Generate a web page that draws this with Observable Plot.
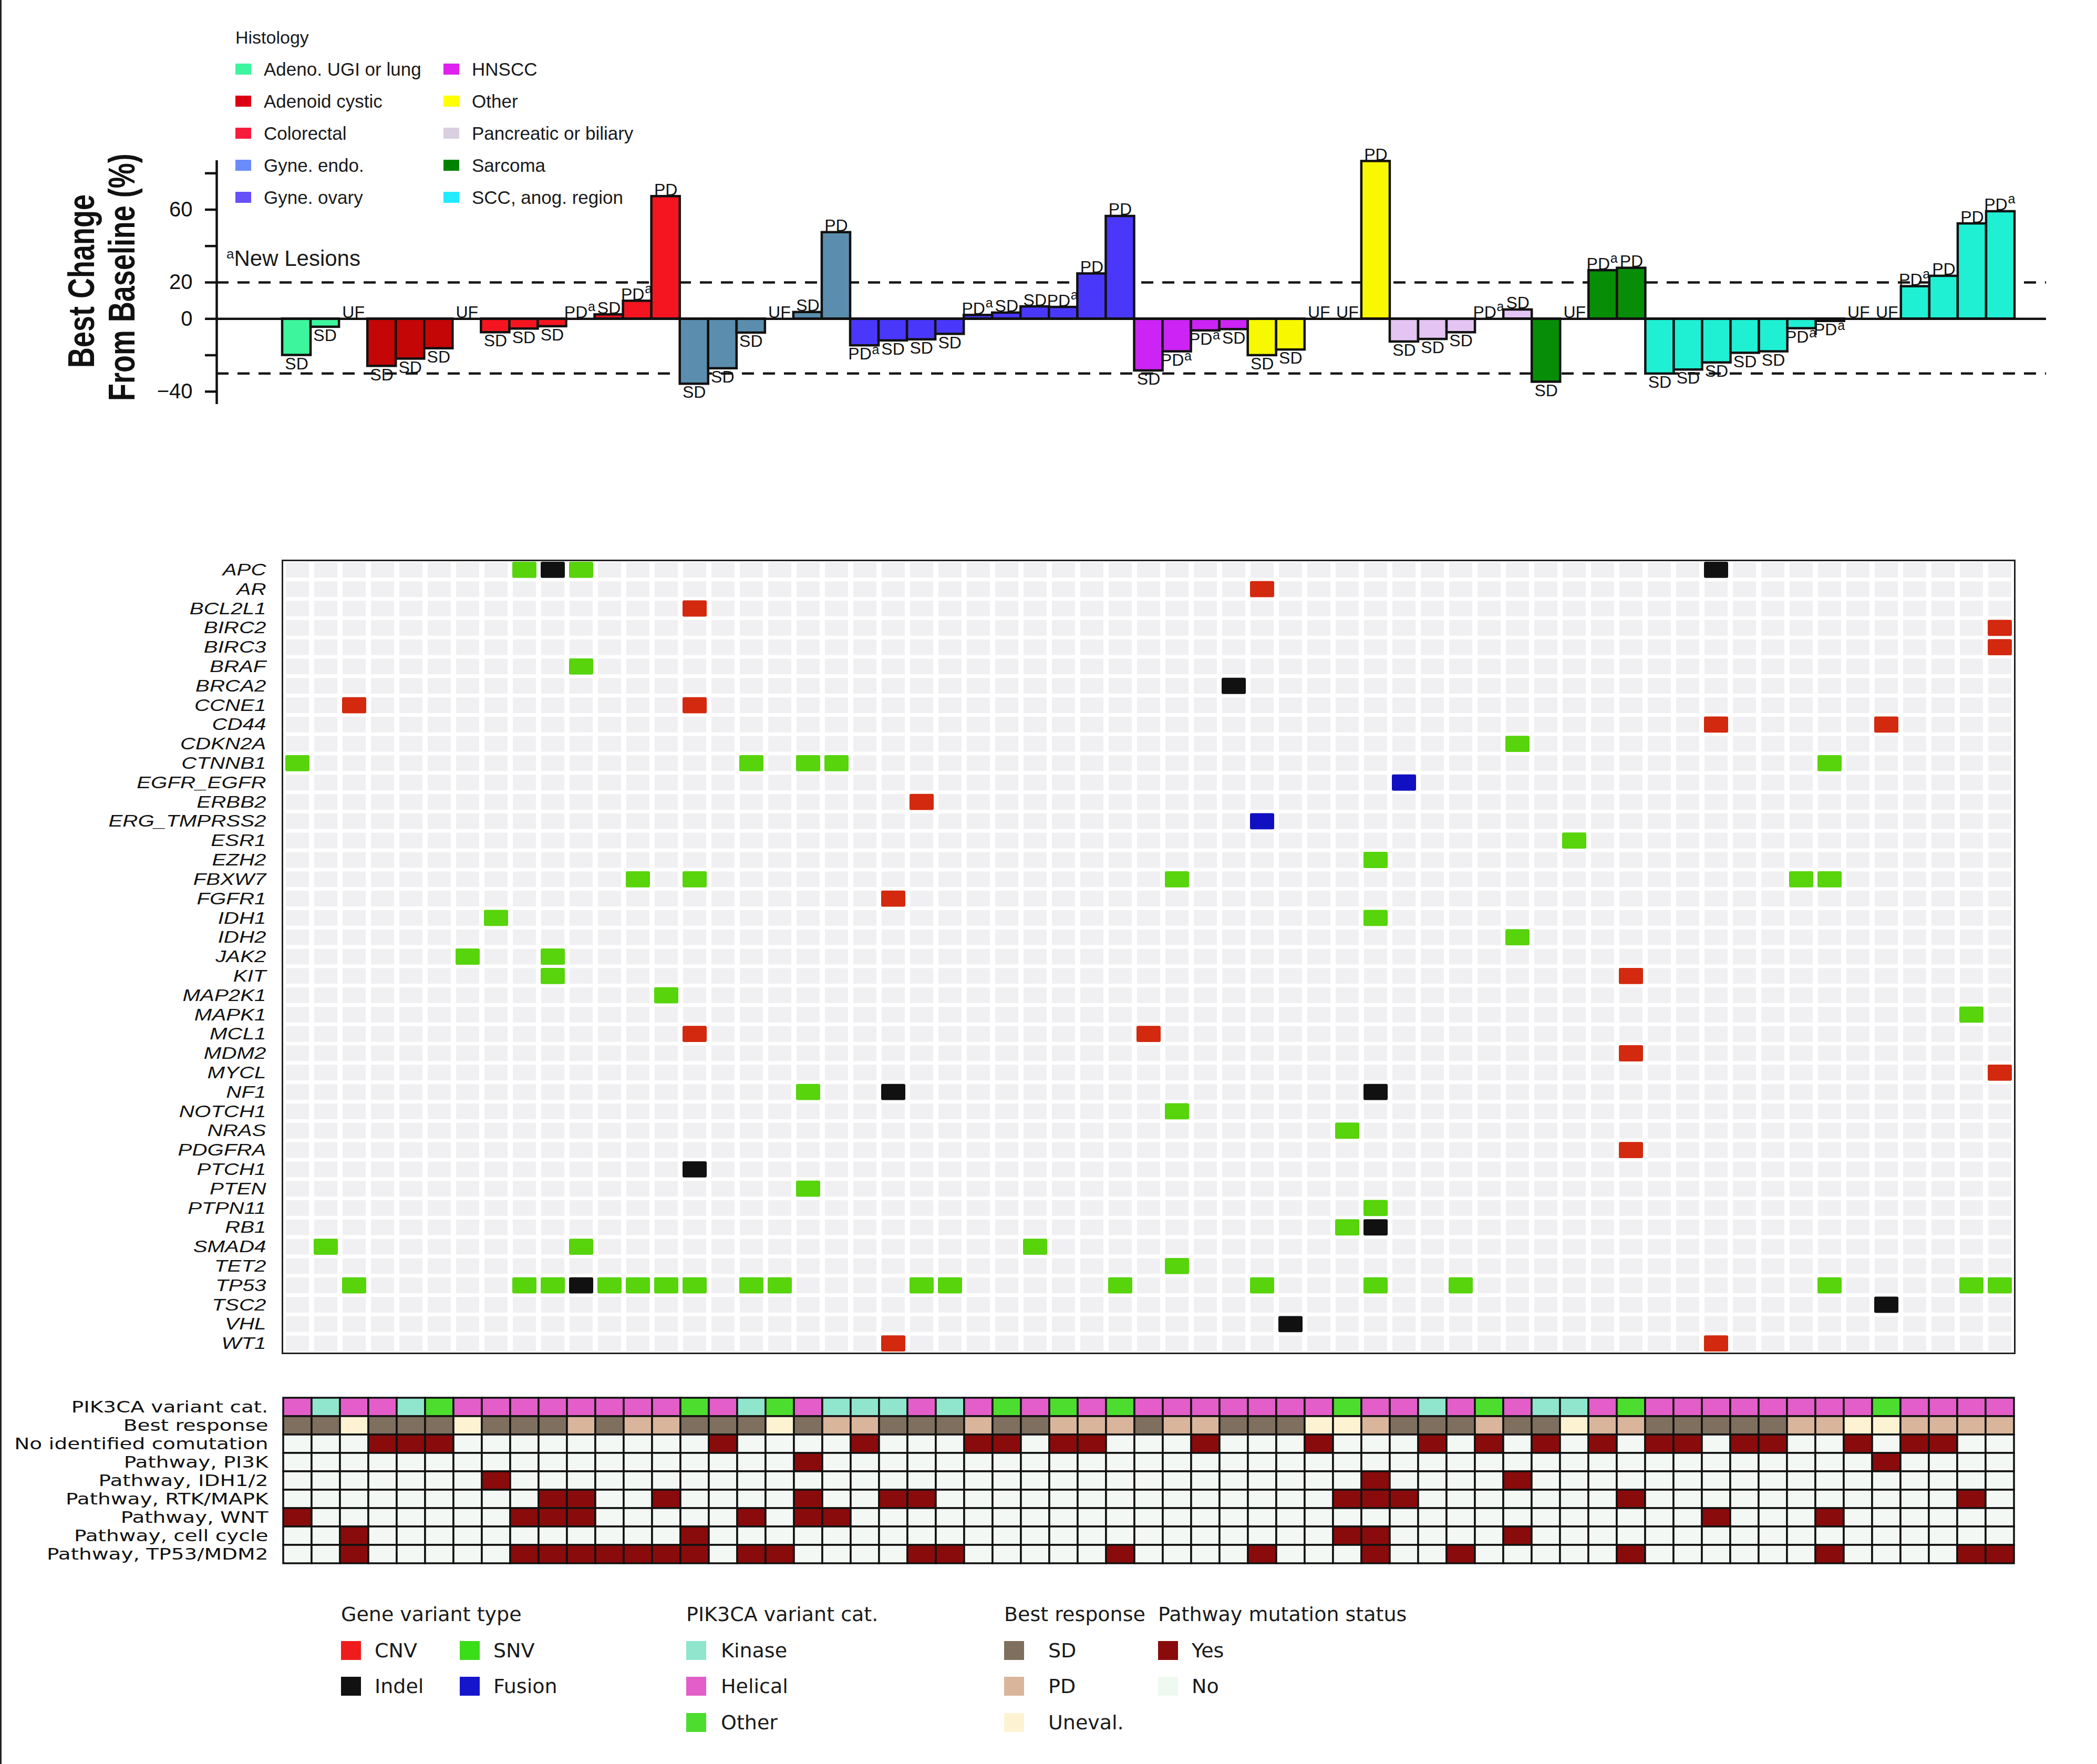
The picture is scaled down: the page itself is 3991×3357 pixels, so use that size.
<!DOCTYPE html>
<html>
<head>
<meta charset="utf-8">
<script src="https://cdn.jsdelivr.net/npm/d3@7"></script>
<script src="https://cdn.jsdelivr.net/npm/@observablehq/plot@0.6"></script>
<style>
  html, body { margin: 0; padding: 0; background: #fff; }
  #root { position: relative; width: 3991px; height: 3357px; overflow: hidden; background: #fff;
          font-family: "Liberation Sans", Arial, Helvetica, sans-serif; color: #1a1a1a; }
  #root > * { position: absolute; }
</style>
</head>
<body>
<div id="root"></div>
<script>
// ---------------- DATA ----------------
const patients = d3.range(1, 62);

const histTypes = ["Adeno. UGI or lung","Adenoid cystic","Colorectal","Gyne. endo.","Gyne. ovary",
                   "HNSCC","Other","Pancreatic or biliary","Sarcoma","SCC, anog. region"];
const histLegendColors = ["#3cf59e","#db0012","#f81c3c","#6b8bfa","#6650f8","#df20ef","#ffff00","#d8d0e0","#008200","#22eaff"];
const histBarColors    = ["#3cf59c","#c40606","#f51520","#5b8eae","#4a38fa","#cb24f4","#f8f800","#e3c4f3","#078d07","#1ff0d4"];

const histology = [
  "Adeno. UGI or lung","Adeno. UGI or lung","Adeno. UGI or lung",
  "Adenoid cystic","Adenoid cystic","Adenoid cystic","Adenoid cystic",
  "Colorectal","Colorectal","Colorectal","Colorectal","Colorectal","Colorectal","Colorectal",
  "Gyne. endo.","Gyne. endo.","Gyne. endo.","Gyne. endo.","Gyne. endo.","Gyne. endo.",
  "Gyne. ovary","Gyne. ovary","Gyne. ovary","Gyne. ovary","Gyne. ovary",
  "Gyne. ovary","Gyne. ovary","Gyne. ovary","Gyne. ovary","Gyne. ovary",
  "HNSCC","HNSCC","HNSCC","HNSCC",
  "Other","Other","Other","Other","Other",
  "Pancreatic or biliary","Pancreatic or biliary","Pancreatic or biliary","Pancreatic or biliary","Pancreatic or biliary",
  "Sarcoma","Sarcoma","Sarcoma","Sarcoma",
  "SCC, anog. region","SCC, anog. region","SCC, anog. region","SCC, anog. region","SCC, anog. region",
  "SCC, anog. region","SCC, anog. region","SCC, anog. region","SCC, anog. region","SCC, anog. region",
  "SCC, anog. region","SCC, anog. region","SCC, anog. region"
];

// best change from baseline (%); null = unevaluable (UF)
const bestChange = [
  -20, -4.5, null, -26, -22, -16.3, null, -7.5, -5.5, -4.2,
  0, 2.3, 9.8, 67.3, -35.8, -27.3, -7.7, null, 3.6, 47.5,
  -14.7, -12, -11.4, -8.4, 2, 3.3, 6.7, 6.4, 24.8, 56.4,
  -28.5, -18, -6.5, -5.8, -20.1, -17, null, null, 86.6, -12.6,
  -11.2, -7.5, 0, 5, -34.7, null, 26.6, 27.9, -30.2, -28,
  -24.1, -18.8, -18, -5.3, -1.3, null, null, 17.8, 23.5, 52.3,
  59
];

// response label ("PDa" = PD with new lesions)
const responseLabel = [
  "SD","SD","UF","SD","SD","SD","UF","SD","SD","SD",
  "PDa","SD","PDa","PD","SD","SD","SD","UF","SD","PD",
  "PDa","SD","SD","SD","PDa","SD","SD","PDa","PD","PD",
  "SD","PDa","PDa","SD","SD","SD","UF","UF","PD","SD",
  "SD","SD","PDa","SD","SD","UF","PDa","PD","SD","SD",
  "SD","SD","SD","PDa","PDa","UF","UF","PDa","PD","PD",
  "PDa"
];

const yTicks = [-40, -20, 0, 20, 40, 60, 80];
const yTickLabels = [-40, 0, 20, 60];
const thresholds = [20, -30];

const genes = ["APC","AR","BCL2L1","BIRC2","BIRC3","BRAF","BRCA2","CCNE1","CD44","CDKN2A","CTNNB1",
  "EGFR_EGFR","ERBB2","ERG_TMPRSS2","ESR1","EZH2","FBXW7","FGFR1","IDH1","IDH2","JAK2","KIT","MAP2K1",
  "MAPK1","MCL1","MDM2","MYCL","NF1","NOTCH1","NRAS","PDGFRA","PTCH1","PTEN","PTPN11","RB1","SMAD4",
  "TET2","TP53","TSC2","VHL","WT1"];

const mutTypes = ["CNV","SNV","Indel","Fusion"];
const mutCellColors = ["#d3290f","#57d40b","#111111","#1010c2"];
const mutLegendColors = ["#ee1c1c","#3bdc18","#111111","#1515cc"];

// [gene, patient, variant type]
const mutations = [
  ["APC",9,"SNV"],["APC",10,"Indel"],["APC",11,"SNV"],["APC",51,"Indel"],
  ["AR",35,"CNV"],
  ["BCL2L1",15,"CNV"],
  ["BIRC2",61,"CNV"],
  ["BIRC3",61,"CNV"],
  ["BRAF",11,"SNV"],
  ["BRCA2",34,"Indel"],
  ["CCNE1",3,"CNV"],["CCNE1",15,"CNV"],
  ["CD44",51,"CNV"],["CD44",57,"CNV"],
  ["CDKN2A",44,"SNV"],
  ["CTNNB1",1,"SNV"],["CTNNB1",17,"SNV"],["CTNNB1",19,"SNV"],["CTNNB1",20,"SNV"],["CTNNB1",55,"SNV"],
  ["EGFR_EGFR",40,"Fusion"],
  ["ERBB2",23,"CNV"],
  ["ERG_TMPRSS2",35,"Fusion"],
  ["ESR1",46,"SNV"],
  ["EZH2",39,"SNV"],
  ["FBXW7",13,"SNV"],["FBXW7",15,"SNV"],["FBXW7",32,"SNV"],["FBXW7",54,"SNV"],["FBXW7",55,"SNV"],
  ["FGFR1",22,"CNV"],
  ["IDH1",8,"SNV"],["IDH1",39,"SNV"],
  ["IDH2",44,"SNV"],
  ["JAK2",7,"SNV"],["JAK2",10,"SNV"],
  ["KIT",10,"SNV"],["KIT",48,"CNV"],
  ["MAP2K1",14,"SNV"],
  ["MAPK1",60,"SNV"],
  ["MCL1",15,"CNV"],["MCL1",31,"CNV"],
  ["MDM2",48,"CNV"],
  ["MYCL",61,"CNV"],
  ["NF1",19,"SNV"],["NF1",22,"Indel"],["NF1",39,"Indel"],
  ["NOTCH1",32,"SNV"],
  ["NRAS",38,"SNV"],
  ["PDGFRA",48,"CNV"],
  ["PTCH1",15,"Indel"],
  ["PTEN",19,"SNV"],
  ["PTPN11",39,"SNV"],
  ["RB1",38,"SNV"],["RB1",39,"Indel"],
  ["SMAD4",2,"SNV"],["SMAD4",11,"SNV"],["SMAD4",27,"SNV"],
  ["TET2",32,"SNV"],
  ["TP53",3,"SNV"],["TP53",9,"SNV"],["TP53",10,"SNV"],["TP53",11,"Indel"],["TP53",12,"SNV"],
  ["TP53",13,"SNV"],["TP53",14,"SNV"],["TP53",15,"SNV"],["TP53",17,"SNV"],["TP53",18,"SNV"],
  ["TP53",23,"SNV"],["TP53",24,"SNV"],["TP53",30,"SNV"],["TP53",35,"SNV"],["TP53",39,"SNV"],
  ["TP53",42,"SNV"],["TP53",55,"SNV"],["TP53",60,"SNV"],["TP53",61,"SNV"],
  ["TSC2",57,"Indel"],
  ["VHL",36,"Indel"],
  ["WT1",22,"CNV"],["WT1",51,"CNV"]
];

const pik3caCat = [
  "Helical","Kinase","Helical","Helical","Kinase","Other","Helical","Helical","Helical","Helical",
  "Helical","Helical","Helical","Helical","Other","Helical","Kinase","Other","Helical","Kinase",
  "Kinase","Kinase","Helical","Kinase","Helical","Other","Helical","Other","Helical","Other",
  "Helical","Helical","Helical","Helical","Helical","Helical","Helical","Other","Helical","Helical",
  "Kinase","Helical","Other","Helical","Kinase","Kinase","Helical","Other","Helical","Helical",
  "Helical","Helical","Helical","Helical","Helical","Helical","Other","Helical","Helical","Helical",
  "Helical"
];

const annotRows = ["PIK3CA variant cat.","Best response","No identified comutation","Pathway, PI3K",
  "Pathway, IDH1/2","Pathway, RTK/MAPK","Pathway, WNT","Pathway, cell cycle","Pathway, TP53/MDM2"];

// patients flagged "Yes" in each status row
const noComutation   = [4,5,6,16,21,25,26,28,29,33,37,41,43,45,47,49,50,52,53,56,58,59];
const pathwayPI3K    = [19,57];
const pathwayIDH     = [8,39,44];
const pathwayRTK     = [10,11,14,19,22,23,38,39,40,48,60];
const pathwayWNT     = [1,9,10,11,17,19,20,51,55];
const pathwayCycle   = [3,15,38,39,44];
const pathwayTP53    = [3,9,10,11,12,13,14,15,17,18,23,24,30,35,39,42,48,55,60,61];

const annotCats   = ["Kinase","Helical","Other","SD","PD","Uneval.","Yes","No"];
const annotColors = ["#8fe6cc","#e35ec8","#4ddd2e","#7e6f5e","#d9b59c","#fdf3d3","#8a0b0b","#f4f8f4"];

// ---------------- LAYOUT HELPERS ----------------
const root = document.getElementById("root");
function place(el, top, left = 0) {
  el.style.position = "absolute"; el.style.top = top + "px"; el.style.left = left + "px";
  root.appendChild(el); return el;
}
function addText(html, x, yc, size, extra = "") {
  const d = document.createElement("div");
  d.innerHTML = html;
  d.style.cssText = `position:absolute;left:${x}px;top:${yc - size / 2}px;font-size:${size}px;line-height:${size}px;white-space:nowrap;${extra}`;
  root.appendChild(d); return d;
}
function addSwatch(x, yc, w, h, color) {
  const d = document.createElement("div");
  d.style.cssText = `position:absolute;left:${x}px;top:${yc - h / 2}px;width:${w}px;height:${h}px;background:${color};`;
  root.appendChild(d); return d;
}
// stretch axis tick labels about their anchor point
function stretchLabels(svg, sx, sy) {
  svg.querySelectorAll("text").forEach(t => {
    const tr = t.getAttribute("transform");
    if (tr) {
      t.setAttribute("transform", `${tr} scale(${sx},${sy})`);
    } else {
      const x = +t.getAttribute("x") || 0;
      t.setAttribute("x", 0);
      t.setAttribute("transform", `translate(${x},0) scale(${sx},${sy})`);
    }
  });
}

// ---------------- WATERFALL (BAR) CHART ----------------
const xDomain = [-1.813, 62.61];
const yDomain = [-47, 87];
const bars = patients.map((p, i) => ({p, v: bestChange[i], h: histology[i]}));
const labels = patients.map((p, i) => {
  const v = bestChange[i] ?? 0;
  const r = responseLabel[i];
  return {p, y: v, neg: v < 0, base: r.replace("a", ""), sup: r.endsWith("a")};
});
const labelFont = 32;

const barPlot = Plot.plot({
  width: 3991, height: 830,
  marginLeft: 412, marginRight: 97, marginTop: 305, marginBottom: 61,
  x: {domain: xDomain, axis: null},
  y: {domain: yDomain, axis: null, label: null},
  color: {domain: histTypes, range: histBarColors},
  style: {fontFamily: "'Liberation Sans', Arial, sans-serif", fontSize: "32px", color: "#111", background: "transparent", overflow: "visible"},
  marks: [
    Plot.ruleY(thresholds, {stroke: "#161616", strokeWidth: 4.5, strokeDasharray: "23,17"}),
    Plot.rect(bars.filter(d => d.v != null && d.v !== 0), {
      x1: d => d.p - 0.5, x2: d => d.p + 0.5, y1: () => 0, y2: "v",
      fill: "h", stroke: "#111", strokeWidth: 4.5
    }),
    Plot.ruleY([0], {stroke: "#111", strokeWidth: 4.5}),
    Plot.ruleX([xDomain[0]], {y1: yDomain[0], y2: yDomain[1], stroke: "#111", strokeWidth: 4.5}),
    Plot.axisY({ticks: yTicks, tickSize: 22, tickPadding: 24, strokeWidth: 4.5, fontSize: 40, label: null,
      tickFormat: d => yTickLabels.includes(d) ? (d < 0 ? "\u2212" + Math.abs(d) : String(d)) : ""}),
    // labels above (>= 0)
    Plot.text(labels.filter(d => !d.neg && !d.sup), {x: "p", y: "y", text: "base", lineAnchor: "bottom", dy: -2, fontSize: labelFont, fill: "#111"}),
    Plot.text(labels.filter(d => !d.neg && d.sup), {x: "p", y: "y", text: "base", lineAnchor: "bottom", dy: -2, dx: -9, fontSize: labelFont, fill: "#111"}),
    Plot.text(labels.filter(d => !d.neg && d.sup), {x: "p", y: "y", text: () => "a", textAnchor: "start", lineAnchor: "bottom", dy: -15, dx: 14, fontSize: 25, fill: "#111"}),
    // labels below (< 0)
    Plot.text(labels.filter(d => d.neg && !d.sup), {x: "p", y: "y", text: "base", lineAnchor: "top", dy: 4, fontSize: labelFont, fill: "#111"}),
    Plot.text(labels.filter(d => d.neg && d.sup), {x: "p", y: "y", text: "base", lineAnchor: "top", dy: 4, dx: -9, fontSize: labelFont, fill: "#111"}),
    Plot.text(labels.filter(d => d.neg && d.sup), {x: "p", y: "y", text: () => "a", textAnchor: "start", lineAnchor: "top", dy: -1, dx: 14, fontSize: 25, fill: "#111"})
  ]
});
place(barPlot, 0, 0);

// y-axis title
const yTitle = document.createElement("div");
yTitle.innerHTML = "Best Change<br>From Baseline (%)";
yTitle.style.cssText = "position:absolute;left:-104px;top:455px;width:600px;height:160px;text-align:center;" +
  "font-weight:bold;font-size:71px;line-height:77px;color:#111;transform:rotate(-90deg) scaleX(0.76);" +
  "font-family:'Liberation Sans',Arial,sans-serif;white-space:nowrap;";
root.appendChild(yTitle);

// histology legend
addText("Histology", 448, 71, 34);
histTypes.forEach((h, i) => {
  const col = i < 5 ? 0 : 1;
  const row = i % 5;
  const yc = 131 + row * 61;
  const sx = col === 0 ? 448 : 844;
  addSwatch(sx, yc, 30, 21, histLegendColors[i]);
  addText(h, sx + 54, yc, 35);
});

// new-lesion note
addText("<sup style='font-size:26px;vertical-align:0;position:relative;top:-14px;'>a</sup>New Lesions", 431, 492, 42);

// ---------------- GENE HEATMAP ----------------
const grid = genes.flatMap(g => patients.map(p => ({g, p})));
const muts = mutations.map(([g, p, t]) => ({g, p, t}));

const heatPlot = Plot.plot({
  width: 3991, height: 1570,
  marginLeft: 537, marginRight: 157, marginTop: 36, marginBottom: 25,
  x: {domain: patients, padding: 0, axis: null},
  y: {domain: genes, padding: 0, label: null, axis: null},
  color: {domain: mutTypes, range: mutCellColors},
  style: {fontFamily: "'Liberation Sans', Arial, sans-serif", fontSize: "31px", color: "#111", background: "transparent", overflow: "visible"},
  marks: [
    Plot.cell(grid, {x: "p", y: "g", fill: "#f0f0f2", insetLeft: 5, insetRight: 5, insetTop: 3.5, insetBottom: 3.5}),
    Plot.cell(muts, {x: "p", y: "g", fill: "t", insetLeft: 4, insetRight: 4, insetTop: 3, insetBottom: 3, rx: 3}),
    Plot.frame({stroke: "#222", strokeWidth: 3}),
    Plot.axisY({tickSize: 0, tickPadding: 31, fontStyle: "italic", fontSize: 31, label: null, fill: "#111"})
  ]
});
stretchLabels(heatPlot, 1.3, 1.02);
place(heatPlot, 1030, 0);

// ---------------- ANNOTATION TRACKS ----------------
const statusRows = [
  ["No identified comutation", noComutation],
  ["Pathway, PI3K", pathwayPI3K],
  ["Pathway, IDH1/2", pathwayIDH],
  ["Pathway, RTK/MAPK", pathwayRTK],
  ["Pathway, WNT", pathwayWNT],
  ["Pathway, cell cycle", pathwayCycle],
  ["Pathway, TP53/MDM2", pathwayTP53]
];
const respCat = r => r === "UF" ? "Uneval." : r.replace("a", "");
const annot = [
  ...patients.map((p, i) => ({row: "PIK3CA variant cat.", p, c: pik3caCat[i]})),
  ...patients.map((p, i) => ({row: "Best response", p, c: respCat(responseLabel[i])})),
  ...statusRows.flatMap(([row, list]) => patients.map(p => ({row, p, c: list.includes(p) ? "Yes" : "No"})))
];

const annotPlot = Plot.plot({
  width: 3991, height: 370,
  marginLeft: 537, marginRight: 157, marginTop: 28, marginBottom: 24,
  x: {domain: patients, padding: 0, axis: null},
  y: {domain: annotRows, padding: 0, label: null, axis: null},
  color: {domain: annotCats, range: annotColors},
  style: {fontFamily: "'DejaVu Sans', sans-serif", fontSize: "30px", color: "#111", background: "transparent", overflow: "visible"},
  marks: [
    Plot.cell(annot, {x: "p", y: "row", fill: "c", stroke: "#111", strokeWidth: 3.5}),
    Plot.axisY({tickSize: 0, tickPadding: 27, fontSize: 30, label: null, fill: "#111"})
  ]
});
stretchLabels(annotPlot, 1.3, 1.0);
place(annotPlot, 2630, 0);

// ---------------- BOTTOM LEGEND ----------------
const lgFont = "font-family:'DejaVu Sans',sans-serif;color:#1a1a1a;";
const rowsY = [3141, 3209, 3278];
const titleY = 3072;
const sw = 38, sh = 36;

addText("Gene variant type", 649, titleY, 38, lgFont);
[["CNV", 0, 0], ["SNV", 1, 0], ["Indel", 0, 1], ["Fusion", 1, 1]].forEach(([t, c, r]) => {
  const x = c === 0 ? 649 : 875;
  addSwatch(x, rowsY[r], sw, sh, mutLegendColors[mutTypes.indexOf(t)]);
  addText(t, x + 64, rowsY[r], 38, lgFont);
});

addText("PIK3CA variant cat.", 1306, titleY, 38, lgFont);
["Kinase", "Helical", "Other"].forEach((t, r) => {
  addSwatch(1306, rowsY[r], sw, sh, annotColors[annotCats.indexOf(t)]);
  addText(t, 1372, rowsY[r], 38, lgFont);
});

addText("Best response", 1911, titleY, 38, lgFont);
["SD", "PD", "Uneval."].forEach((t, r) => {
  addSwatch(1911, rowsY[r], sw, sh, annotColors[annotCats.indexOf(t)]);
  addText(t, 1995, rowsY[r], 38, lgFont);
});

addText("Pathway mutation status", 2204, titleY, 38, lgFont);
["Yes", "No"].forEach((t, r) => {
  addSwatch(2204, rowsY[r], sw, sh, t === "No" ? "#eef9ef" : annotColors[annotCats.indexOf(t)]);
  addText(t, 2268, rowsY[r], 38, lgFont);
});

// thin dark left edge, as in the reference scan
const edge = document.createElement("div");
edge.style.cssText = "position:absolute;left:0;top:0;width:3px;height:3357px;background:#222;";
root.appendChild(edge);
</script>
</body>
</html>
